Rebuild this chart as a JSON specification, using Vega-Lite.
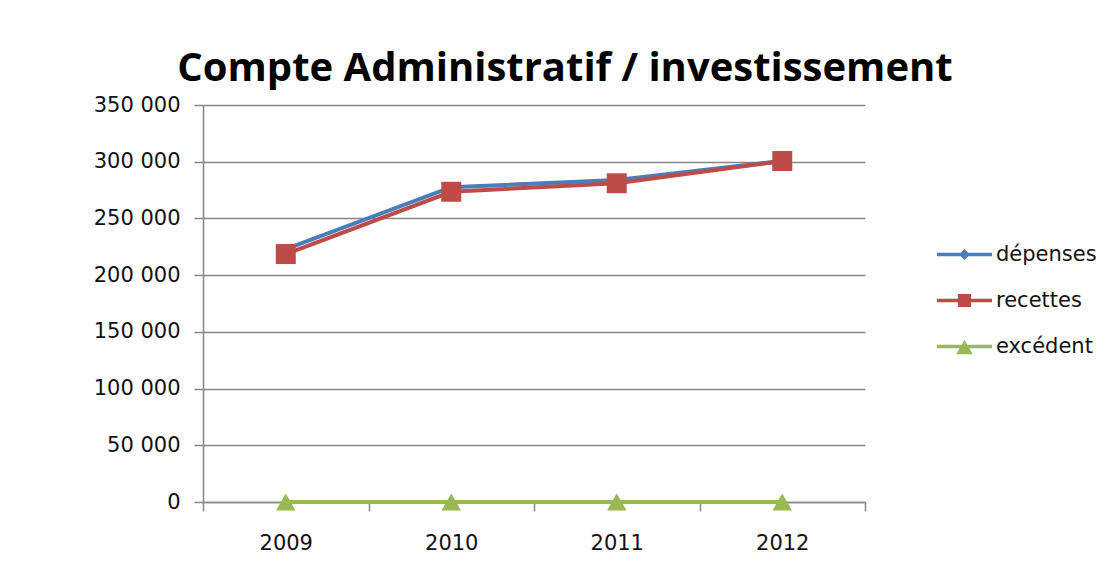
{
  "$schema": "https://vega.github.io/schema/vega-lite/v6.json",
  "width": 662,
  "height": 397,
  "autosize": {"type": "none"},
  "padding": {"left": 203, "top": 105, "right": 246, "bottom": 77},
  "background": "white",
  "title": {
    "text": "Compte Administratif / investissement",
    "font": "Open Sans",
    "fontSize": 40,
    "fontWeight": "bold",
    "color": "#000000",
    "anchor": "middle",
    "dx": 31,
    "offset": 5
  },
  "config": {
    "view": {"stroke": null},
    "axis": {"labelFont": "DejaVu Sans", "labelFontSize": 21, "labelColor": "#111111"},
    "legend": {"labelFont": "DejaVu Sans", "labelFontSize": 21, "labelColor": "#111111", "rowPadding": 8}
  },
  "data": {
    "values": [
      {"year": "2009", "series": "dépenses", "value": 223000},
      {"year": "2010", "series": "dépenses", "value": 277500},
      {"year": "2011", "series": "dépenses", "value": 283800},
      {"year": "2012", "series": "dépenses", "value": 300600},
      {"year": "2009", "series": "recettes", "value": 218600},
      {"year": "2010", "series": "recettes", "value": 273500},
      {"year": "2011", "series": "recettes", "value": 281000},
      {"year": "2012", "series": "recettes", "value": 300600},
      {"year": "2009", "series": "excédent", "value": 0},
      {"year": "2010", "series": "excédent", "value": 0},
      {"year": "2011", "series": "excédent", "value": 0},
      {"year": "2012", "series": "excédent", "value": 0}
    ]
  },
  "encoding": {
    "x": {
      "field": "year",
      "type": "ordinal",
      "sort": null,
      "scale": {"type": "band", "paddingInner": 0, "paddingOuter": 0},
      "axis": {
        "title": null,
        "labelAngle": 0,
        "tickBand": "extent",
        "domainColor": "#868686",
        "domainWidth": 1.5,
        "tickColor": "#868686",
        "tickWidth": 1.5,
        "tickSize": 9,
        "labelPadding": 21,
        "grid": false
      }
    },
    "y": {
      "field": "value",
      "type": "quantitative",
      "scale": {"domain": [0, 350000], "nice": false, "zero": true},
      "axis": {
        "title": null,
        "values": [0, 50000, 100000, 150000, 200000, 250000, 300000, 350000],
        "labelExpr": "replace(format(datum.value, ','), ',', ' ')",
        "grid": true,
        "gridColor": "#868686",
        "gridWidth": 1.5,
        "domainColor": "#868686",
        "domainWidth": 1.5,
        "tickColor": "#868686",
        "tickWidth": 1.5,
        "tickSize": 9,
        "labelPadding": 14
      }
    },
    "color": {
      "field": "series",
      "type": "nominal",
      "sort": null,
      "scale": {
        "domain": ["dépenses", "recettes", "excédent"],
        "range": ["#4A7EBB", "#BE4B48", "#98B954"]
      },
      "legend": {
        "title": null,
        "orient": "none",
        "legendX": 734,
        "legendY": 122,
        "symbolSize": 3025,
        "rowPadding": 8,
        "labelOffset": 4,
        "encode": {
          "symbols": {
            "update": {
              "fill": {"scale": "color", "field": "value"},
              "stroke": {"value": "transparent"},
              "strokeWidth": {"value": 0},
              "opacity": {"value": 1},
              "size": {"value": 3025},
              "shape": {
                "signal": "datum.value === 'dépenses' ? 'M-1,-0.064H1V0.064H-1Z M-0.2,0L0,-0.2L0.2,0L0,0.2Z' : (datum.value === 'recettes' ? 'M-1,-0.064H1V0.064H-1Z M-0.24,-0.24H0.24V0.24H-0.24Z' : 'M-1,-0.064H1V0.064H-1Z M-0.3,0.28L0,-0.24L0.3,0.28Z')"
              }
            }
          }
        }
      }
    }
  },
  "layer": [
    {
      "mark": {"type": "line", "strokeWidth": 4},
      "encoding": {
        "strokeWidth": {
          "condition": {"test": "datum.series === 'excédent'", "value": 3},
          "value": 4
        }
      }
    },
    {
      "mark": {"type": "point", "filled": true, "opacity": 1},
      "encoding": {
        "shape": {
          "condition": [
            {"test": "datum.series === 'dépenses'", "value": "diamond"},
            {"test": "datum.series === 'recettes'", "value": "square"}
          ],
          "value": "triangle-up"
        },
        "size": {
          "condition": [
            {"test": "datum.series === 'dépenses'", "value": 90},
            {"test": "datum.series === 'recettes'", "value": 400}
          ],
          "value": 380
        }
      }
    }
  ]
}
